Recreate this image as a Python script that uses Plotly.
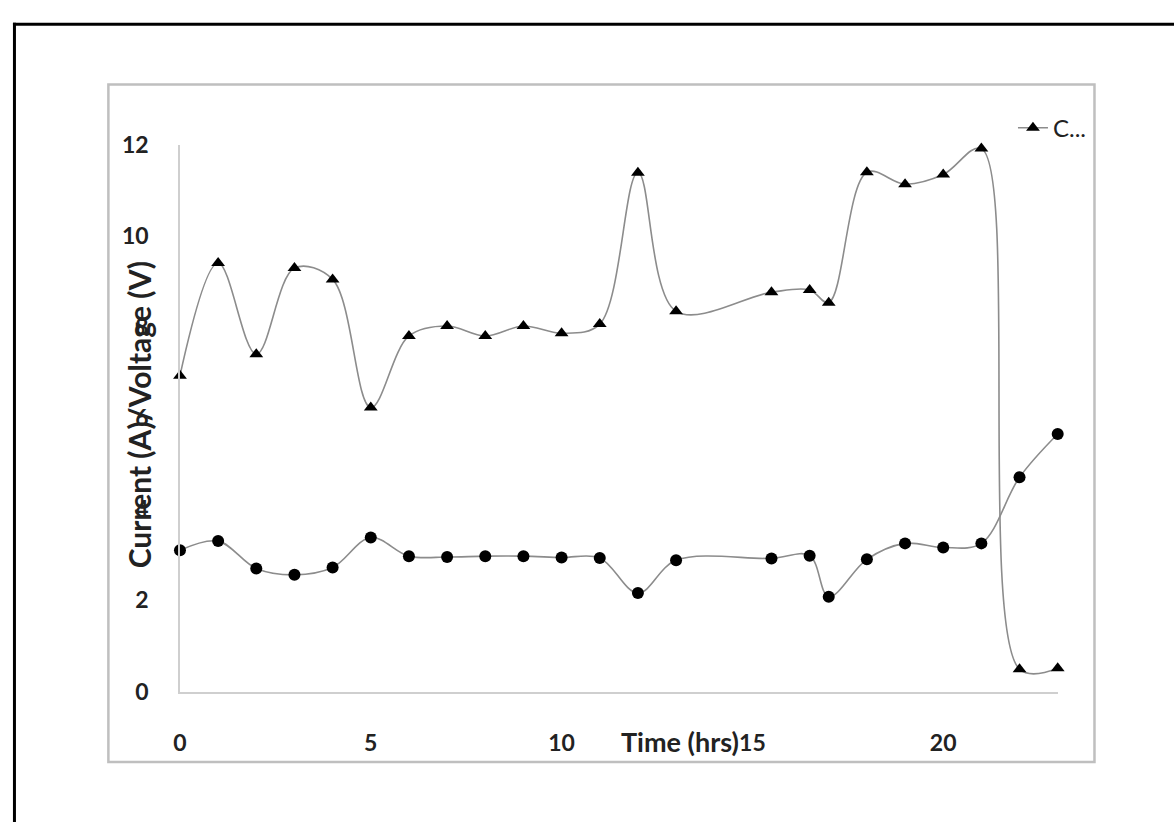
import plotly.graph_objects as go

W, H = 1174, 835

time_hrs = [0, 1, 2, 3, 4, 5, 6, 7, 8, 9, 10, 11, 12, 13, 15.5, 16.5, 17, 18, 19, 20, 21, 22, 23]
series_tri = [6.93, 9.40, 7.40, 9.29, 9.04, 6.23, 7.80, 8.02, 7.80, 8.02, 7.86, 8.06, 11.38, 8.34,
              8.76, 8.81, 8.53, 11.39, 11.13, 11.34, 11.91, 0.49, 0.51]
series_circ = [3.10, 3.30, 2.70, 2.56, 2.72, 3.38, 2.97, 2.95, 2.97, 2.97, 2.94, 2.93, 2.16, 2.88,
               2.92, 2.98, 2.08, 2.90, 3.25, 3.16, 3.25, 4.70, 5.65]
legend_name = "C..."
x_ticks = [0, 5, 10, 15, 20]
y_ticks = [0, 2, 4, 6, 8, 10, 12]
x_title = "Time (hrs)"
y_title = "Current (A)/Voltage (V)"

FONT = "Lato"
TXT = "#222222"

def px(x):
    return x / W

def py(y):
    return 1 - y / H

fig = go.Figure()
fig.add_trace(go.Scatter(
    x=time_hrs, y=series_tri, name=legend_name, mode="lines+markers",
    line=dict(color="#8c8c8c", width=1.6, shape="spline", smoothing=1),
    marker=dict(symbol="triangle-up", size=12, color="black"),
    cliponaxis=False, showlegend=True))
fig.add_trace(go.Scatter(
    x=time_hrs, y=series_circ, name="series 2", mode="lines+markers",
    line=dict(color="#8c8c8c", width=1.6, shape="spline", smoothing=1),
    marker=dict(symbol="circle", size=12, color="black"),
    cliponaxis=False, showlegend=False))

fig.update_layout(
    width=W, height=H, margin=dict(l=0, r=0, t=0, b=0),
    paper_bgcolor="white", plot_bgcolor="white",
    font=dict(family=FONT, color=TXT, size=22),
    xaxis=dict(domain=[px(174), px(1057)], range=[0, 23], tickvals=x_ticks,
               showgrid=False, zeroline=False, showline=True, linecolor="#cfcfcf", linewidth=1.5,
               ticks="", ticklabelstandoff=30,
               tickfont=dict(family=FONT, size=23, color=TXT, weight="bold")),
    yaxis=dict(domain=[py(700), py(134)], range=[0, 12], tickvals=y_ticks,
               showgrid=False, zeroline=False, showline=True, linecolor="#cfcfcf", linewidth=1.5,
               ticks="", ticklabelstandoff=25,
               tickfont=dict(family=FONT, size=23, color=TXT, weight="bold")),
    showlegend=True,
    legend=dict(x=px(1012), y=py(117), xanchor="left", yanchor="middle",
                bgcolor="rgba(0,0,0,0)", borderwidth=0,
                font=dict(family=FONT, size=24, color=TXT)),
    annotations=[
        dict(text=y_title, x=px(133), y=py(414), xref="paper", yref="paper",
             showarrow=False, textangle=-90, xanchor="center", yanchor="middle",
             font=dict(family=FONT, size=30, color=TXT, weight="bold")),
        dict(text=x_title, x=px(677), y=py(752), xref="paper", yref="paper",
             showarrow=False, xanchor="center", yanchor="middle",
             font=dict(family=FONT, size=27, color=TXT, weight="bold")),
    ],
    shapes=[
        dict(type="rect", xref="paper", yref="paper", x0=px(102), x1=px(1094), y0=py(773), y1=py(72),
             line=dict(color="#bfbfbf", width=2.5), layer="below"),
        dict(type="line", xref="paper", yref="paper", x0=px(7.5), x1=px(7.5), y0=0, y1=py(8),
             line=dict(color="black", width=3)),
        dict(type="line", xref="paper", yref="paper", x0=px(6), x1=1, y0=py(9.5), y1=py(9.5),
             line=dict(color="black", width=3)),
    ],
)

fig.write_html("out.html", config={"displayModeBar": False},
               post_script="document.body.style.margin='0';document.body.style.overflow='hidden';")
